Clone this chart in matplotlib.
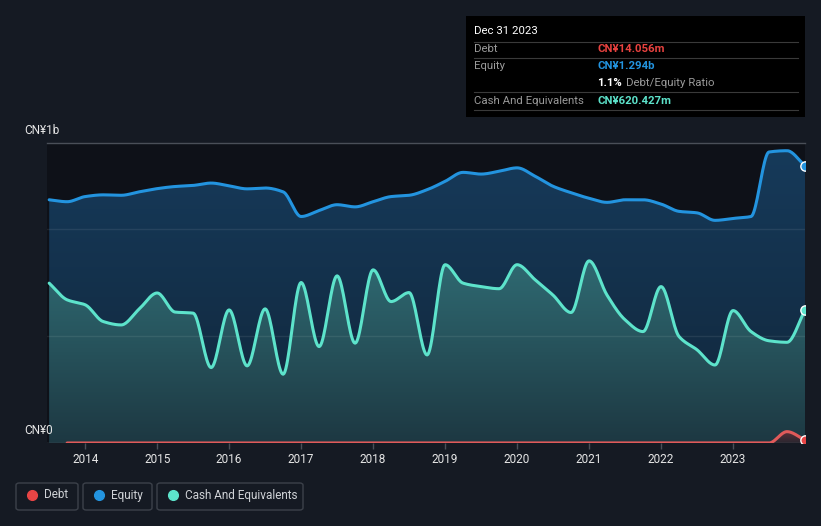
import numpy as np
import matplotlib
matplotlib.use("Agg")
import matplotlib.pyplot as plt
from matplotlib.patches import FancyBboxPatch, Rectangle
from matplotlib.colors import LinearSegmentedColormap

plt.rcParams['font.family'] = ['Roboto', 'DejaVu Sans']

# ---------------- data (values in CN¥ billions) ----------------
dates = [2013.5, 2013.75, 2014.0, 2014.25, 2014.5, 2014.75, 2015.0, 2015.25, 2015.5, 2015.75,
         2016.0, 2016.25, 2016.5, 2016.75, 2017.0, 2017.25, 2017.5, 2017.75, 2018.0, 2018.25,
         2018.5, 2018.75, 2019.0, 2019.25, 2019.5, 2019.75, 2020.0, 2020.25, 2020.5, 2020.75,
         2021.0, 2021.25, 2021.5, 2021.75, 2022.0, 2022.25, 2022.5, 2022.75, 2023.0, 2023.25,
         2023.5, 2023.75, 2024.0]
equity = [1.135, 1.126, 1.150, 1.158, 1.156, 1.172, 1.187, 1.197, 1.202, 1.213,
          1.200, 1.186, 1.190, 1.172, 1.057, 1.085, 1.112, 1.102, 1.126, 1.150,
          1.156, 1.182, 1.221, 1.263, 1.255, 1.268, 1.284, 1.245, 1.198, 1.168,
          1.142, 1.123, 1.135, 1.135, 1.115, 1.081, 1.074, 1.039, 1.048, 1.057,
          1.358, 1.364, 1.294]
cash = [0.746, 0.668, 0.645, 0.567, 0.551, 0.625, 0.700, 0.611, 0.606, 0.352,
        0.621, 0.360, 0.626, 0.321, 0.749, 0.450, 0.780, 0.466, 0.808, 0.660,
        0.702, 0.411, 0.832, 0.746, 0.730, 0.720, 0.832, 0.762, 0.690, 0.609,
        0.850, 0.690, 0.575, 0.520, 0.730, 0.497, 0.435, 0.364, 0.618, 0.520,
        0.477, 0.470, 0.620]
debt_dates = [2013.75, 2014.75, 2015.75, 2016.75, 2017.75, 2018.75, 2019.75, 2020.75,
              2021.75, 2022.75, 2023.5, 2023.75, 2024.0]
debt = [0.0, 0.0, 0.0, 0.0, 0.0, 0.0, 0.0, 0.0, 0.0, 0.0, 0.0, 0.053, 0.014]

year_ticks = [2014, 2015, 2016, 2017, 2018, 2019, 2020, 2021, 2022, 2023]
year_labels = [str(y) for y in year_ticks]

# ---------------- colours ----------------
BG = '#151a23'
PLOT_BG = '#0e1118'
EQ_C = '#2394df'
CASH_C = '#5de3cb'
DEBT_C = '#e05a5a'


def monotone(x, y, n=20):
    """Monotone cubic (Fritsch-Carlson) rendering of a polyline."""
    x = np.asarray(x, float)
    y = np.asarray(y, float)
    h = np.diff(x)
    d = np.diff(y) / h
    m = np.zeros_like(y)
    m[0], m[-1] = d[0], d[-1]
    for i in range(1, len(y) - 1):
        if d[i - 1] * d[i] <= 0:
            m[i] = 0
        else:
            w1 = 2 * h[i] + h[i - 1]
            w2 = h[i] + 2 * h[i - 1]
            m[i] = (w1 + w2) / (w1 / d[i - 1] + w2 / d[i])
    xs, ys = [], []
    for i in range(len(x) - 1):
        t = np.linspace(0, 1, n, endpoint=(i == len(x) - 2))
        h00 = 2 * t**3 - 3 * t**2 + 1
        h10 = t**3 - 2 * t**2 + t
        h01 = -2 * t**3 + 3 * t**2
        h11 = t**3 - t**2
        xs.append(x[i] + t * h[i])
        ys.append(h00 * y[i] + h10 * h[i] * m[i] + h01 * y[i + 1] + h11 * h[i] * m[i + 1])
    return np.concatenate(xs), np.concatenate(ys)


fig = plt.figure(figsize=(8.21, 5.26), dpi=100, facecolor=BG)
ax = fig.add_axes([47 / 821, 1 - 443 / 526, (805 - 47) / 821, 300 / 526])
ax.set_facecolor(PLOT_BG)
XMIN, XMAX, YMAX = 2013.47, 2024.0, 1.4
ax.set_xlim(XMIN, XMAX)
ax.set_ylim(0, YMAX)


def grad_fill(xs, ys, top_c, bot_c, z, alpha=1.0):
    poly = ax.fill_between(xs, 0, ys, color='none', lw=0, zorder=z)
    cmap = LinearSegmentedColormap.from_list('g', [bot_c, top_c])
    grad = np.linspace(0, 1, 256).reshape(-1, 1)
    im = ax.imshow(grad, cmap=cmap, origin='lower', aspect='auto',
                   extent=[XMIN, XMAX, 0, max(ys)], zorder=z, alpha=alpha,
                   interpolation='bicubic')
    im.set_clip_path(poly.get_paths()[0], transform=ax.transData)


ex, ey = monotone(dates, equity)
cx, cy = monotone(dates, cash)
dx, dy = monotone(debt_dates, debt)

grad_fill(ex, ey, '#163a5a', '#11263a', 1)
grad_fill(cx, cy, '#2f6a72', '#1d3842', 2)
grad_fill(dx, dy, '#5a3038', '#2a2630', 3)

ax.plot(ex, ey, color=EQ_C, lw=2.2, zorder=5, solid_capstyle='round')
ax.plot(cx, cy, color=CASH_C, lw=2.2, zorder=5, solid_capstyle='round')
ax.plot(dx, dy, color=DEBT_C, lw=2.2, zorder=6, solid_capstyle='round')

# end dots
ax.scatter([dates[-1]], [equity[-1]], s=45, color=EQ_C, edgecolor='white', lw=1, zorder=7, clip_on=True)
ax.scatter([dates[-1]], [cash[-1]], s=45, color=CASH_C, edgecolor='white', lw=1, zorder=7, clip_on=True)
ax.scatter([debt_dates[-1]], [debt[-1]], s=45, color='#e84545', edgecolor='white', lw=1, zorder=7, clip_on=True)

# grid
for gy in [0.5, 1.0]:
    ax.axhline(gy, color='white', alpha=0.08, lw=1.0, zorder=4)
ax.axhline(YMAX, color='#4a4f58', lw=1.0, zorder=4, clip_on=False)
ax.axhline(0, color='#4a4f58', lw=1.0, zorder=4)

for s in ax.spines.values():
    s.set_visible(False)
ax.set_yticks([])
ax.set_xticks(year_ticks)
ax.set_xticklabels(year_labels)
ax.tick_params(axis='x', colors='#4a4f58', length=4, width=1, labelcolor='#e6e6e6',
               labelsize=8.5, pad=3)

fig.text(24 / 821, 1 - 131 / 526, 'CN¥1b', color='#e6e6e6', fontsize=8.5, va='center', ha='left')
fig.text(24 / 821, 1 - 431 / 526, 'CN¥0', color='#e6e6e6', fontsize=8.5, va='center', ha='left')

# tooltip box
fig.patches.append(Rectangle((466 / 821, 1 - 117 / 526), (805 - 466) / 821, 101 / 526,
                             transform=fig.transFigure, facecolor='#000000', edgecolor='none'))
fig.text(474 / 821, 1 - 31 / 526, 'Dec 31 2023', color='white', fontsize=8.2, va='center')
for ly in [41.5, 58.3, 92.3, 110]:
    fig.add_artist(plt.Line2D([474 / 821, 798 / 821], [1 - ly / 526, 1 - ly / 526],
                              color='#3a3a3a', lw=0.8, transform=fig.transFigure))
rows = [(49.5, 'Debt', 'CN¥14.056m', '#e8423f'),
        (66.3, 'Equity', 'CN¥1.294b', '#2394df'),
        (100.5, 'Cash And Equivalents', 'CN¥620.427m', CASH_C)]
for ry, lab, val, col in rows:
    fig.text(474 / 821, 1 - ry / 526, lab, color='#9a9a9a', fontsize=8.2, va='center')
    fig.text(597 / 821, 1 - ry / 526, val, color=col, fontsize=8.2, va='center', fontweight='bold')
fig.text(597 / 821, 1 - 83.3 / 526, '1.1%', color='white', fontsize=8.2, va='center', fontweight='bold')
fig.text(626 / 821, 1 - 83.3 / 526, 'Debt/Equity Ratio', color='#9a9a9a', fontsize=8.2, va='center')

# legend
legend_items = [('Debt', '#e84545', 16, 78), ('Equity', '#2394df', 83, 152),
                ('Cash And Equivalents', CASH_C, 157, 303)]
for lab, col, x0, x1 in legend_items:
    fig.patches.append(FancyBboxPatch((x0 / 821, 1 - 510 / 526), (x1 - x0) / 821, 27 / 526,
                                      boxstyle='round,pad=0,rounding_size=0.004',
                                      transform=fig.transFigure, facecolor='none',
                                      edgecolor='#3c414a', lw=1))
    fig.add_artist(plt.Line2D([(x0 + 16) / 821], [1 - 495 / 526], marker='o', markersize=7,
                              color=col, lw=0, transform=fig.transFigure))
    fig.text((x0 + 28) / 821, 1 - 495 / 526, lab, color='#cfd2d6', fontsize=8.5, va='center')

fig.savefig('out.png', dpi=100, facecolor=BG)
